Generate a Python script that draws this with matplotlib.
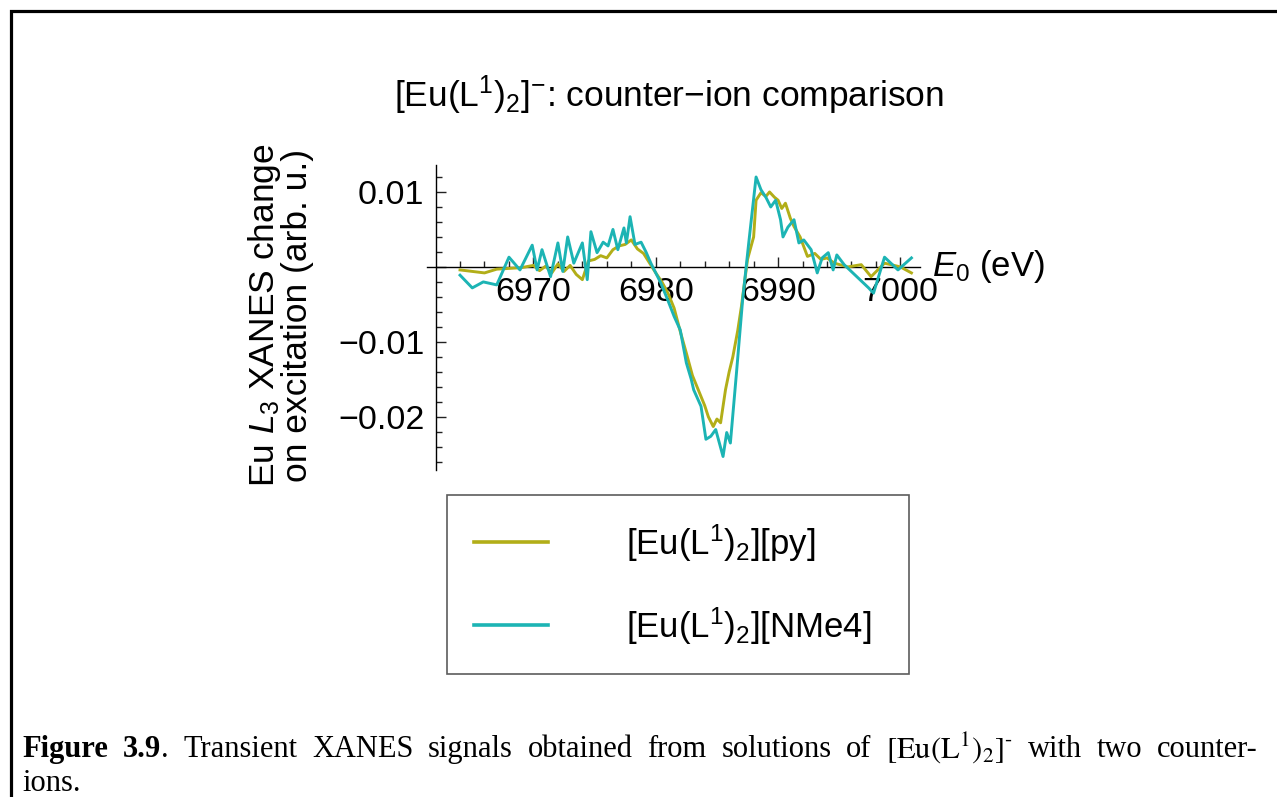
import matplotlib
matplotlib.use("Agg")
import matplotlib.pyplot as plt
import matplotlib.patches as mpatches
from matplotlib.lines import Line2D
import numpy as np

plt.rcParams["font.family"] = ["Liberation Sans", "DejaVu Sans"]
plt.rcParams["mathtext.fontset"] = "custom"
plt.rcParams["mathtext.rm"] = "Liberation Sans"
plt.rcParams["mathtext.it"] = "Liberation Sans:italic"
plt.rcParams["mathtext.bf"] = "Liberation Sans:bold"

# ── Data ──────────────────────────────────────────────────────────────────────
e_py = [6964.0, 6965.0, 6966.0, 6967.0, 6968.0, 6969.0, 6970.0, 6970.5, 6971.0,
        6971.5, 6972.0, 6972.5, 6973.0, 6973.5, 6974.0, 6974.5, 6975.0, 6975.5,
        6976.0, 6976.5, 6977.0, 6977.5, 6978.0, 6978.5, 6979.0, 6979.5, 6980.0,
        6980.5, 6981.0, 6981.5, 6982.0, 6982.5, 6983.0, 6983.5, 6984.0, 6984.3,
        6984.7, 6985.0, 6985.3, 6985.7, 6986.0, 6986.3, 6986.7, 6987.0, 6987.5,
        6988.0, 6988.2, 6988.6, 6989.0, 6989.3, 6989.7, 6990.0, 6990.3, 6990.6,
        6991.0, 6991.3, 6991.8, 6992.4, 6993.0, 6993.5, 6994.0, 6994.6, 6995.7,
        6996.8, 6997.6, 6998.7, 7000.0, 7000.9]
d_py = [-0.0004, -0.0006, -0.0008, -0.0003, -0.0002, -0.0001, 0.0002, -0.0005, 0.0001,
        -0.0008, 0.0004, -0.0006, 0.0002, -0.0010, -0.0017, 0.0008, 0.0010, 0.0015,
        0.0012, 0.0023, 0.0028, 0.0030, 0.0036, 0.0024, 0.0018, 0.0005, -0.0008,
        -0.0020, -0.0035, -0.0055, -0.0086, -0.0115, -0.0145, -0.0165, -0.0185, -0.0200,
        -0.0213, -0.0203, -0.0208, -0.0164, -0.0140, -0.0120, -0.0085, -0.0053, 0.0010,
        0.0040, 0.0089, 0.0099, 0.0094, 0.0100, 0.0093, 0.0089, 0.0078, 0.0085,
        0.0065, 0.0054, 0.0040, 0.0014, 0.0018, 0.0010, 0.0012, 0.0005, 0.0000,
        0.0003, -0.0013, 0.0005, 0.0000, -0.0008]

e_nme4 = [6964.0, 6965.0, 6965.9, 6967.0, 6968.0, 6968.9, 6969.9, 6970.3, 6970.7,
          6971.4, 6972.0, 6972.4, 6972.8, 6973.3, 6974.0, 6974.4, 6974.7, 6975.2,
          6975.7, 6976.1, 6976.5, 6976.9, 6977.4, 6977.6, 6977.9, 6978.3, 6978.8,
          6979.2, 6979.6, 6980.4, 6981.0, 6981.5, 6982.0, 6982.5, 6982.9, 6983.1,
          6983.7, 6984.1, 6984.5, 6984.9, 6985.2, 6985.5, 6985.8, 6986.1, 6986.6,
          6987.1, 6987.6, 6988.2, 6988.6, 6989.0, 6989.4, 6989.8, 6990.2, 6990.4,
          6990.8, 6991.3, 6991.7, 6992.1, 6992.7, 6993.2, 6993.6, 6994.1, 6994.5,
          6994.8, 6995.4, 6997.4, 6997.8, 6998.7, 6999.8, 7000.9]
d_nme4 = [-0.0011, -0.0028, -0.0020, -0.0024, 0.0013, -0.0004, 0.0029, -0.0004, 0.0023,
          -0.0013, 0.0032, -0.0006, 0.0040, 0.0005, 0.0032, -0.0017, 0.0047, 0.0019,
          0.0033, 0.0028, 0.0050, 0.0023, 0.0052, 0.0032, 0.0067, 0.0030, 0.0033,
          0.0020, 0.0005, -0.0021, -0.0045, -0.0066, -0.0084, -0.0128, -0.0150, -0.0164,
          -0.0186, -0.0230, -0.0226, -0.0217, -0.0235, -0.0253, -0.0221, -0.0235, -0.0141,
          -0.0044, 0.0032, 0.0120, 0.0103, 0.0093, 0.0080, 0.0089, 0.0063, 0.0040,
          0.0053, 0.0063, 0.0032, 0.0036, 0.0023, -0.0008, 0.0012, 0.0019, -0.0004,
          0.0016, 0.0003, -0.0028, -0.0035, 0.0013, -0.0004, 0.0012]

labels = [r"[Eu(L$^1$)$_2$][py]", r"[Eu(L$^1$)$_2$][NMe4]"]
colors = ["#b2ae18", "#1cb4b4"]

x_major = [6970, 6980, 6990, 7000]
y_major = [-0.02, -0.01, 0.0, 0.01]
y_labels = ["\u22120.02", "\u22120.01", "", "0.01"]

# ── Figure ────────────────────────────────────────────────────────────────────
W, H = 1277, 797
fig = plt.figure(figsize=(W / 100, H / 100), dpi=100, facecolor="white")

# page frame (only top and left edges visible)
fig.patches.append(mpatches.Rectangle(
    (10.5 / W, -0.5), 2.0, 1.5 - 10.5 / H, transform=fig.transFigure,
    fill=False, edgecolor="black", linewidth=2.3))

ax = fig.add_axes([427 / W, (H - 470) / H, (920 - 427) / W, (470 - 165) / H])
ax.set_facecolor("none")

ax.plot(e_py, d_py, color=colors[0], lw=2.1, zorder=3)
ax.plot(e_nme4, d_nme4, color=colors[1], lw=2.1, zorder=4)

ax.set_xlim(6961.3, 7001.6)
ax.set_ylim(-0.0271, 0.0136)

for s in ["top", "right"]:
    ax.spines[s].set_visible(False)
ax.spines["bottom"].set_position(("data", 0))
ax.spines["left"].set_position(("data", 6962))
for s in ["bottom", "left"]:
    ax.spines[s].set_linewidth(1.0)

ax.set_xticks(x_major)
ax.set_xticks(np.arange(6964, 7001, 2), minor=True)
ax.set_yticks(y_major)
ax.set_yticklabels(y_labels)
ax.set_yticks(np.arange(-0.026, 0.0135, 0.002), minor=True)

ax.tick_params(which="both", direction="in", labelsize=24.5, width=1.0, color="#222222")
ax.tick_params(which="major", length=7)
ax.tick_params(which="minor", length=4)
ax.tick_params(axis="x", pad=7)
ax.tick_params(axis="y", pad=8)

ax.text(7002.6, 0, r"$E_0$ (eV)", ha="left", va="center", fontsize=25)

fig.text(669 / W, 1 - 95 / H, r"[Eu(L$^1$)$_2$]$^{-}$: counter" + "\u2212" + "ion comparison",
         ha="center", va="center", fontsize=25.5)

fig.text(280 / W, 1 - 315 / H, "Eu $L_3$ XANES change\non excitation (arb. u.)",
         rotation=90, ha="center", va="center", fontsize=25.5, multialignment="center",
         linespacing=0.92)

# ── Legend ────────────────────────────────────────────────────────────────────
handles = [Line2D([], [], color=c, lw=2.6) for c in colors]
leg = fig.legend(handles, labels, loc="upper left",
                 bbox_to_anchor=(447 / W, 1 - 495 / H, (909 - 447) / W, 0),
                 mode="expand", fontsize=25, handlelength=2.13, handletextpad=2.25,
                 labelspacing=1.2, borderpad=0.78, borderaxespad=0, fancybox=False,
                 edgecolor="#333333")
leg.get_frame().set_linewidth(1.2)

# ── Caption (justified, Times-like) ───────────────────────────────────────────
cap_font = dict(family=["Liberation Serif", "DejaVu Serif"], fontsize=22,
                math_fontfamily="stix")
line1 = [
    [("Figure", "bold")],
    [("3.9", "bold"), (".", "normal")],
    [("Transient", "normal")], [("XANES", "normal")], [("signals", "normal")],
    [("obtained", "normal")], [("from", "normal")], [("solutions", "normal")],
    [("of", "normal")], [(r"$[\mathrm{Eu(L}^{1})_{2}]^{\text{-}}$", "normal")],
    [("with", "normal")], [("two", "normal")], [("counter-", "normal")],
]
x_left, x_right = 22, 1258
y1, y2 = 1 - 757 / H, 1 - 791 / H

renderer = fig.canvas.get_renderer()


def piece_width(txt, weight):
    t = fig.text(0, 0, txt, fontweight=weight, **cap_font)
    w = t.get_window_extent(renderer).width
    t.remove()
    return w


widths = [[piece_width(t, w) for t, w in word] for word in line1]
total = sum(sum(ws) for ws in widths)
gap = (x_right - x_left - total) / (len(line1) - 1)
xp = x_left
for word, ws in zip(line1, widths):
    for (t, w), pw in zip(word, ws):
        fig.text(xp / W, y1, t, fontweight=w, ha="left", va="baseline", **cap_font)
        xp += pw
    xp += gap
fig.text(x_left / W, y2, "ions.", ha="left", va="baseline", **cap_font)

fig.savefig("out.png", dpi=100, facecolor="white")
